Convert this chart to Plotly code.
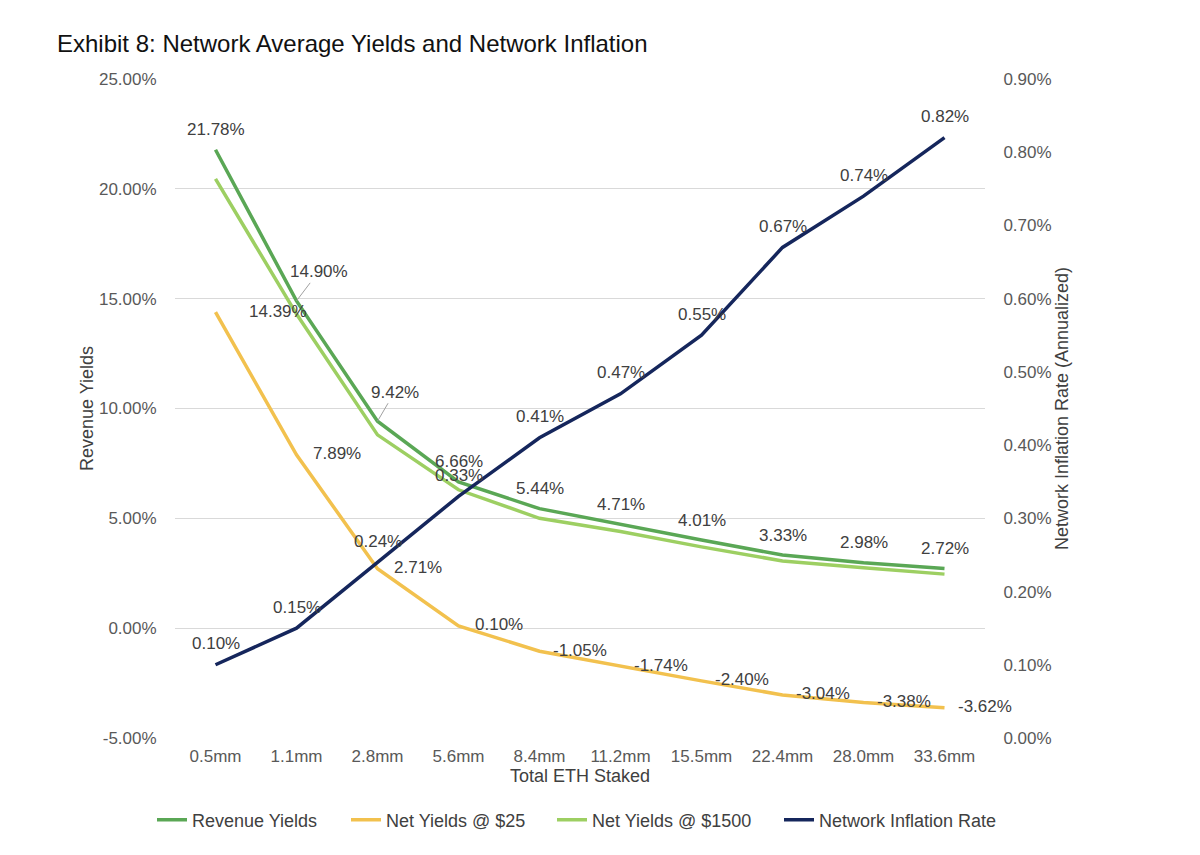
import plotly.graph_objects as go

categories = ["0.5mm", "1.1mm", "2.8mm", "5.6mm", "8.4mm", "11.2mm", "15.5mm", "22.4mm", "28.0mm", "33.6mm"]
revenue_yields = [21.78, 14.90, 9.42, 6.66, 5.44, 4.71, 4.01, 3.33, 2.98, 2.72]
net_yields_25 = [14.39, 7.89, 2.71, 0.10, -1.05, -1.74, -2.40, -3.04, -3.38, -3.62]
net_yields_1500 = [20.45, 14.3, 8.8, 6.3, 5.0, 4.4, 3.7, 3.06, 2.75, 2.46]
inflation_rate = [0.10, 0.15, 0.24, 0.33, 0.41, 0.47, 0.55, 0.67, 0.74, 0.82]
left_ticks = [-5, 0, 5, 10, 15, 20, 25]
right_ticks = [0.0, 0.1, 0.2, 0.3, 0.4, 0.5, 0.6, 0.7, 0.8, 0.9]

C_REV = "#5aa755"
C_25 = "#f2c14e"
C_1500 = "#9dcf62"
C_INF = "#15265c"
FONT = "Liberation Sans"
GRAY = "#595959"
DARK = "#404040"

fig = go.Figure()
fig.add_trace(go.Scatter(x=categories, y=revenue_yields, name="Revenue Yields", mode="lines",
                         line=dict(color=C_REV, width=3.5), legend="legend"))
fig.add_trace(go.Scatter(x=categories, y=net_yields_25, name="Net Yields @ $25", mode="lines",
                         line=dict(color=C_25, width=3.5), legend="legend2"))
fig.add_trace(go.Scatter(x=categories, y=net_yields_1500, name="Net Yields @ $1500", mode="lines",
                         line=dict(color=C_1500, width=3.5), legend="legend3"))
fig.add_trace(go.Scatter(x=categories, y=inflation_rate, name="Network Inflation Rate", mode="lines",
                         line=dict(color=C_INF, width=3.5), yaxis="y2", legend="legend4"))

lab_font = dict(family=FONT, size=17, color=DARK)
ann = []
for i, (c, v) in enumerate(zip(categories, revenue_yields)):
    if i == 1:
        ann.append(dict(x=c, y=v, xref="x", yref="y", text=f"{v:.2f}%", showarrow=True,
                        arrowhead=0, arrowwidth=1, arrowcolor="#a0a0a0", ax=22, ay=-29, font=lab_font))
    elif i == 2:
        ann.append(dict(x=c, y=v, xref="x", yref="y", text=f"{v:.2f}%", showarrow=True,
                        arrowhead=0, arrowwidth=1, arrowcolor="#a0a0a0", ax=17, ay=-29, font=lab_font))
    else:
        ann.append(dict(x=c, y=v, xref="x", yref="y", text=f"{v:.2f}%", showarrow=False,
                        yshift=20, font=lab_font))
for i, (c, v) in enumerate(zip(categories, net_yields_25)):
    ann.append(dict(x=c, y=v, xref="x", yref="y", text=f"{v:.2f}%", showarrow=False,
                    xshift=62 if i == 0 else 40, yshift=1, font=lab_font))
for i, (c, v) in enumerate(zip(categories, inflation_rate)):
    ann.append(dict(x=c, y=v, xref="x", yref="y2", text=f"{v:.2f}%", showarrow=False,
                    yshift=21, font=lab_font))

PL, PR, PT, PB = 175, 215, 79, 117
pw = 1200 - PL - PR
ph = 855 - PT - PB
leg_common = dict(orientation="h", yanchor="middle", y=(738 - 820) / ph, xanchor="left",
                  font=dict(family=FONT, size=18, color=DARK), itemwidth=30,
                  bgcolor="rgba(0,0,0,0)", borderwidth=0)
leg_starts = [158, 352, 558, 785]

fig.update_layout(
    width=1200, height=855,
    paper_bgcolor="white", plot_bgcolor="white",
    margin=dict(l=PL, r=PR, t=PT, b=PB, autoexpand=False),
    font=dict(family=FONT, size=17, color=GRAY),
    title=dict(text="Exhibit 8: Network Average Yields and Network Inflation",
               x=57 / 1200, xanchor="left", y=1 - 44 / 855, yanchor="middle",
               font=dict(family=FONT, size=24, color="#111111")),
    xaxis=dict(type="category", range=[-0.5, 9.5], showgrid=False, zeroline=False, showline=False,
               ticks="outside", ticklen=3, tickcolor="rgba(0,0,0,0)",
               tickfont=dict(family=FONT, size=17, color=GRAY),
               title=dict(text="Total ETH Staked", standoff=2,
                          font=dict(family=FONT, size=18, color=DARK))),
    yaxis=dict(range=[-5, 25], tickvals=left_ticks, ticktext=[f"{t:.2f}%" for t in left_ticks],
               showgrid=True, gridcolor="#d9d9d9", gridwidth=1, zeroline=False, showline=False,
               ticks="outside", ticklen=14, tickcolor="rgba(0,0,0,0)",
               tickfont=dict(family=FONT, size=17, color=GRAY),
               title=dict(text="Revenue Yields", standoff=0,
                          font=dict(family=FONT, size=18, color=DARK))),
    yaxis2=dict(range=[0, 0.9], tickvals=right_ticks, ticktext=[f"{t:.2f}%" for t in right_ticks],
                overlaying="y", side="right", showgrid=False, zeroline=False, showline=False,
                ticks="outside", ticklen=14, tickcolor="rgba(0,0,0,0)",
                tickfont=dict(family=FONT, size=17, color=GRAY),
                title=dict(text="Network Inflation Rate (Annualized)", standoff=4,
                           font=dict(family=FONT, size=18, color=DARK))),
    legend=dict(leg_common, x=(leg_starts[0] - 6 - PL) / pw),
    legend2=dict(leg_common, x=(leg_starts[1] - 6 - PL) / pw),
    legend3=dict(leg_common, x=(leg_starts[2] - 6 - PL) / pw),
    legend4=dict(leg_common, x=(leg_starts[3] - 6 - PL) / pw),
    annotations=ann,
    showlegend=True,
)

fig.write_html("out.html")
